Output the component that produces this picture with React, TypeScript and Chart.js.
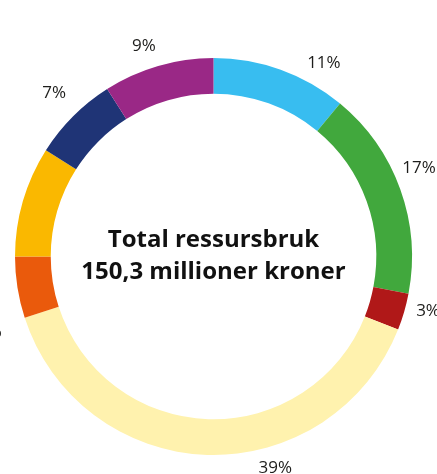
import React, { useEffect, useRef } from "react";
import { Chart, registerables } from "chart.js";

Chart.register(...registerables);

// Data (percent of total resource use), clockwise from 12 o'clock
const categories = ["Blå", "Grønn", "Rød", "Lys gul", "Oransje", "Gul", "Marineblå", "Lilla"];
const values = [11, 17, 3, 39, 5, 9, 7, 9];
const valueLabels = ["11%", "17%", "3%", "39%", "5%", "9%", "7%", "9%"];
const centerLines = ["Total ressursbruk", "150,3 millioner kroner"];

// Styles / label placement (not data)
const colors = ["#38BDF0", "#41A83D", "#B01818", "#FFF2AE", "#EA5A0C", "#FAB800", "#1F3476", "#9A2886"];
const labelAngleOffsetDeg = [9.9, -3.5, -1.8, -18.1, -9.7, 0, 0.7, -2.1];
const labelRadius = [222.8, 223.7, 221.5, 220, 236, 245, 228, 222];

const labelPlugin = {
  id: "outerLabels",
  afterDraw(chart: any) {
    const ctx = chart.ctx;
    const meta = chart.getDatasetMeta(0);
    ctx.save();
    ctx.font = "17px 'Open Sans'";
    ctx.fillStyle = "#1d1d1b";
    ctx.textAlign = "center";
    ctx.textBaseline = "middle";
    meta.data.forEach((arc: any, i: number) => {
      const p = arc.getProps(["x", "y", "startAngle", "endAngle"], true);
      const mid = (p.startAngle + p.endAngle) / 2 + (labelAngleOffsetDeg[i] * Math.PI) / 180;
      const r = labelRadius[i];
      ctx.fillText(valueLabels[i], p.x + r * Math.cos(mid), p.y + r * Math.sin(mid));
    });
    // center text
    const a0 = meta.data[0];
    ctx.font = "bold 24px 'Open Sans'";
    ctx.fillStyle = "#111111";
    ctx.fillText(centerLines[0], a0.x, a0.y - 16);
    ctx.fillText(centerLines[1], a0.x, a0.y + 16);
    ctx.restore();
  },
};

export default function App() {
  const ref = useRef<HTMLCanvasElement | null>(null);
  useEffect(() => {
    if (!ref.current) return;
    const chart = new Chart(ref.current, {
      type: "doughnut",
      data: {
        labels: categories,
        datasets: [
          {
            data: values,
            backgroundColor: colors,
            borderWidth: 0,
          },
        ],
      },
      options: {
        responsive: false,
        animation: false,
        cutout: "82%",
        rotation: 0,
        layout: { padding: { left: 15, right: 25, top: 58, bottom: 19 } },
        plugins: {
          legend: { display: false },
          tooltip: { enabled: false },
        },
      },
      plugins: [labelPlugin],
    });
    return () => chart.destroy();
  }, []);
  return (
    <div style={{ position: "absolute", left: 0, top: 0, width: 437, height: 474, background: "#fff" }}>
      <canvas ref={ref} width={437} height={474} style={{ display: "block" }} />
    </div>
  );
}
